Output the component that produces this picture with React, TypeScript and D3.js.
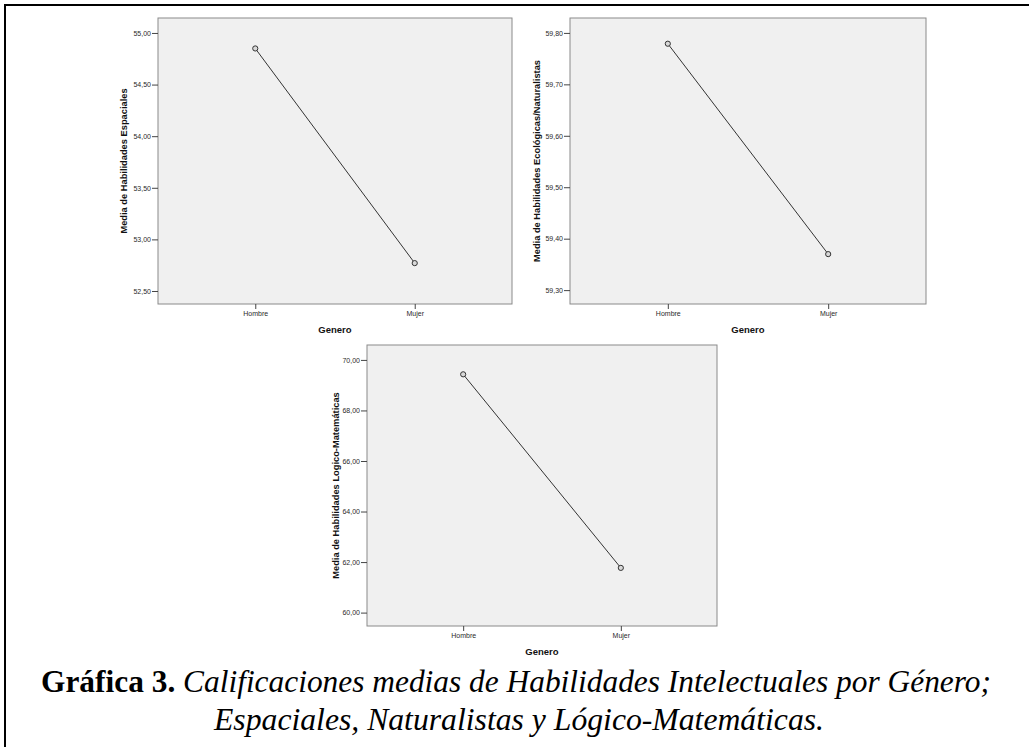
import React, { useEffect, useRef } from 'react'
import * as d3 from 'd3'

// Data
const genders = ['Hombre', 'Mujer']

const espacialesMeans = [54.85, 52.77]
const espacialesTicks = [52.5, 53, 53.5, 54, 54.5, 55]
const espacialesDomain = [52.374, 55.145]

const naturalistasMeans = [59.779, 59.37]
const naturalistasTicks = [59.3, 59.4, 59.5, 59.6, 59.7, 59.8]
const naturalistasDomain = [59.273, 59.829]

const logicoMeans = [69.43, 61.77]
const logicoTicks = [60, 62, 64, 66, 68, 70]
const logicoDomain = [59.47, 70.59]

const W = 1029
const H = 747

const fmt = (v: number) => d3.format('.2f')(v).replace('.', ',')

type PanelProps = {
  x: number
  y: number
  w: number
  h: number
  values: number[]
  ticks: number[]
  domain: number[]
  yTitle: string
  titleOffset: number
}

function Panel({ x, y, w, h, values, ticks, domain, yTitle, titleOffset }: PanelProps) {
  const ref = useRef<SVGGElement>(null)

  useEffect(() => {
    const g = d3.select(ref.current)
    g.selectAll('*').remove()

    const xs = d3.scalePoint().domain(genders).range([0, w]).padding(0.61)
    const ys = d3.scaleLinear().domain(domain).range([h, 0])

    g.append('rect')
      .attr('width', w)
      .attr('height', h)
      .attr('fill', '#f0f0f0')
      .attr('stroke', '#8a8a8a')
      .attr('stroke-width', 1)

    const yAxis = g.append('g').call(
      d3.axisLeft(ys).tickValues(ticks).tickFormat(d => fmt(+d)).tickSize(6).tickPadding(1)
    )
    const xAxis = g
      .append('g')
      .attr('transform', `translate(0,${h})`)
      .call(d3.axisBottom(xs).tickSize(5).tickPadding(2))

    ;[yAxis, xAxis].forEach(a => {
      a.select('.domain').remove()
      a.selectAll('line').attr('stroke', '#444')
      a.selectAll('text')
        .attr('fill', '#2a2a2a')
        .style('font-family', 'Liberation Sans, Arial, sans-serif')
        .style('font-size', '7px')
    })

    const line = d3
      .line<number>()
      .x((d, i) => xs(genders[i]) as number)
      .y(d => ys(d))

    g.append('path')
      .datum(values)
      .attr('d', line)
      .attr('fill', 'none')
      .attr('stroke', '#333')
      .attr('stroke-width', 1)

    g.selectAll('circle.pt')
      .data(values)
      .enter()
      .append('circle')
      .attr('class', 'pt')
      .attr('cx', (d, i) => xs(genders[i]) as number)
      .attr('cy', d => ys(d))
      .attr('r', 2.6)
      .attr('fill', '#d8d8d8')
      .attr('stroke', '#333')
      .attr('stroke-width', 1)

    g.append('text')
      .attr('x', w / 2)
      .attr('y', h + 28.5)
      .attr('text-anchor', 'middle')
      .style('font-family', 'Liberation Sans, Arial, sans-serif')
      .style('font-size', '9.5px')
      .style('font-weight', 'bold')
      .attr('fill', '#111')
      .text('Genero')

    g.append('text')
      .attr('transform', `translate(${-titleOffset},${h / 2}) rotate(-90)`)
      .attr('dy', '0.35em')
      .attr('text-anchor', 'middle')
      .style('font-family', 'Liberation Sans, Arial, sans-serif')
      .style('font-size', '9.3px')
      .style('font-weight', 'bold')
      .attr('fill', '#111')
      .text(yTitle)
  }, [])

  return <g ref={ref} transform={`translate(${x},${y})`} />
}

export default function App() {
  return (
    <div style={{ position: 'absolute', left: 0, top: 0 }}>
      <svg width={W} height={H} style={{ display: 'block', background: '#fff' }}>
        <rect x={5} y={5} width={W + 20} height={H + 20} fill="none" stroke="#000" strokeWidth={2} />
        <Panel
          x={158}
          y={18}
          w={354}
          h={286}
          values={espacialesMeans}
          ticks={espacialesTicks}
          domain={espacialesDomain}
          yTitle="Media de Habilidades Espaciales"
          titleOffset={34}
        />
        <Panel
          x={570}
          y={18}
          w={356}
          h={286}
          values={naturalistasMeans}
          ticks={naturalistasTicks}
          domain={naturalistasDomain}
          yTitle="Media de Habilidades Ecológicas/Naturalistas"
          titleOffset={33}
        />
        <Panel
          x={367}
          y={345}
          w={350}
          h={281}
          values={logicoMeans}
          ticks={logicoTicks}
          domain={logicoDomain}
          yTitle="Media de Habilidades Logico-Matemáticas"
          titleOffset={31}
        />
        <text
          x={516}
          y={692}
          textAnchor="middle"
          textLength={950}
          lengthAdjust="spacingAndGlyphs"
          style={{ fontFamily: 'Liberation Serif, Times New Roman, serif', fontSize: 31 }}
          fill="#000"
        >
          <tspan fontWeight="bold">Gráfica 3.</tspan>
          <tspan fontStyle="italic"> Calificaciones medias de Habilidades Intelectuales por Género;</tspan>
        </text>
        <text
          x={519}
          y={730}
          textAnchor="middle"
          textLength={610}
          lengthAdjust="spacingAndGlyphs"
          style={{ fontFamily: 'Liberation Serif, Times New Roman, serif', fontSize: 31, fontStyle: 'italic' }}
          fill="#000"
        >
          Espaciales, Naturalistas y Lógico-Matemáticas.
        </text>
      </svg>
    </div>
  )
}
